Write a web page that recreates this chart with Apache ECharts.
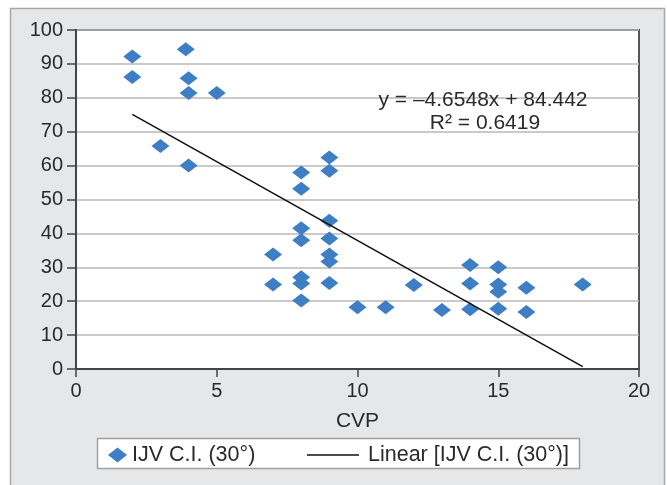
<!DOCTYPE html>
<html>
<head>
<meta charset="utf-8">
<script src="https://cdn.jsdelivr.net/npm/echarts@6/dist/echarts.min.js"></script>
<style>html,body{margin:0;padding:0;background:#fff;}#c{width:667px;height:485px;}</style>
</head>
<body>
<div id="c"></div>
<script>
// Data
const cvp = [2, 2, 3.9, 4, 4, 5, 3, 4, 8, 8, 9, 9, 9, 8, 8, 9, 7, 9, 9, 8, 8, 7, 9, 8, 10, 11, 12, 13, 14, 14, 14, 15, 15, 15, 15, 16, 16, 18];
const ijv = [92.2, 86.1, 94.3, 85.8, 81.4, 81.4, 65.8, 60.0, 58.0, 53.2, 62.4, 58.5, 43.7, 41.5, 38.0, 38.5, 33.8, 33.8, 31.7, 27.1, 25.2, 24.9, 25.4, 20.2, 18.2, 18.2, 24.8, 17.4, 30.7, 25.2, 17.6, 30.0, 24.9, 22.8, 17.8, 24.0, 16.8, 24.9];
const trendX = [2, 18];
const trendY = [75.1, 0.7];
const yTicks = [0, 10, 20, 30, 40, 50, 60, 70, 80, 90, 100];
const xTicks = [0, 5, 10, 15, 20];
const seriesName = 'IJV C.I. (30°)';
const trendName = 'Linear [IJV C.I. (30°)]';
const eqText = 'y = \u20134.6548x + 84.442';
const r2Text = 'R\u00B2 = 0.6419';

const scatterData = cvp.map((x, i) => [x, ijv[i]]);
const trendData = trendX.map((x, i) => [x, trendY[i]]);
const FONT = 'Liberation Sans, Arial, sans-serif';

const chart = echarts.init(document.getElementById('c'), null, {renderer: 'canvas'});
chart.setOption({
  animation: false,
  backgroundColor: '#ffffff',
  graphic: [
    {type: 'rect', z: -10, shape: {x: 10.5, y: 8.5, width: 654, height: 490},
     style: {fill: '#e6e7e9', stroke: '#a8a8a8', lineWidth: 1.5}},
    {type: 'rect', z: -5, shape: {x: 97.5, y: 438.5, width: 482, height: 30},
     style: {fill: '#ffffff', stroke: '#a0a0a0', lineWidth: 1.5}},
    {type: 'text', z: 10, x: 483, y: 100,
     style: {text: eqText, font: '21px ' + FONT, fill: '#2a2a2a', textAlign: 'center', textVerticalAlign: 'middle'}},
    {type: 'text', z: 10, x: 485, y: 123,
     style: {text: r2Text, font: '21px ' + FONT, fill: '#2a2a2a', textAlign: 'center', textVerticalAlign: 'middle'}}
  ],
  grid: {left: 76, right: 28, top: 30, bottom: 116, show: true, backgroundColor: '#ffffff', borderColor: '#555555', borderWidth: 2},
  legend: [
    {data: [{name: seriesName, icon: 'diamond'}], left: 108, top: 444, itemWidth: 19, itemHeight: 15, padding: 0,
     textStyle: {fontSize: 21.5, fontFamily: FONT, color: '#2a2a2a'}},
    {data: [{name: trendName, icon: 'rect', itemStyle: {color: '#111111'}}], left: 307, top: 444, itemWidth: 52, itemHeight: 1.6, padding: 0,
     textStyle: {fontSize: 21.5, fontFamily: FONT, color: '#2a2a2a', padding: [0, 0, 0, 4]}}
  ],
  xAxis: {
    type: 'value', min: 0, max: 20, interval: 5,
    name: 'CVP', nameLocation: 'middle', nameGap: 42,
    nameTextStyle: {fontSize: 21, fontFamily: FONT, color: '#2a2a2a'},
    axisLine: {lineStyle: {color: '#444444', width: 2}},
    axisTick: {show: true, length: 8, lineStyle: {color: '#444444', width: 1.5}},
    axisLabel: {fontSize: 20, fontFamily: FONT, color: '#2a2a2a', margin: 12,
      formatter: v => xTicks.includes(v) ? String(v) : ''},
    splitLine: {show: false}
  },
  yAxis: {
    type: 'value', min: 0, max: 100, interval: 10,
    axisLine: {show: true, lineStyle: {color: '#444444', width: 2}},
    axisTick: {show: true, length: 9, lineStyle: {color: '#444444', width: 1.5}},
    axisLabel: {fontSize: 20, fontFamily: FONT, color: '#2a2a2a', margin: 13,
      formatter: v => yTicks.includes(v) ? String(v) : ''},
    splitLine: {show: true, lineStyle: {color: '#b8b8b8', width: 1.5}}
  },
  series: [
    {name: seriesName, type: 'scatter', data: scatterData, symbol: 'diamond', symbolSize: [18, 14],
     itemStyle: {color: '#3d7ec5', opacity: 1}, z: 3},
    {name: trendName, type: 'line', data: trendData, symbol: 'none', showSymbol: false,
     lineStyle: {color: '#111111', width: 1.6}, itemStyle: {color: '#111111'}, z: 4}
  ]
});
</script>
</body>
</html>
